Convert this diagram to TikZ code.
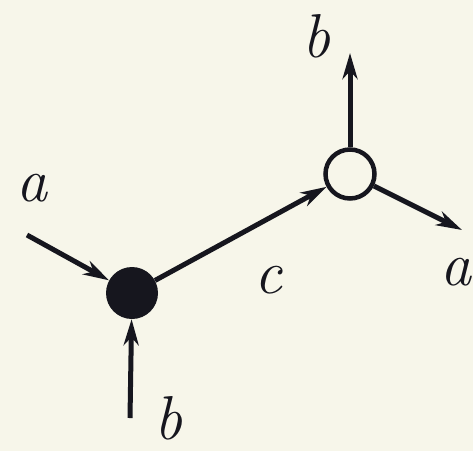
\documentclass[tikz,border=0pt]{standalone}
\usetikzlibrary{arrows.meta}
\definecolor{bg}{RGB}{247,246,234}
\definecolor{ink}{RGB}{22,22,30}
\tikzset{
  conn/.style={draw=ink, line width=5pt, -{Stealth[length=26pt,width=15pt,inset=8pt]}},
  lbl/.style={text=ink, font=\fontsize{62}{62}\selectfont\itshape, inner sep=0pt},
  fullv/.style={circle, fill=ink, minimum size=52pt, inner sep=0pt},
  openv/.style={circle, draw=ink, line width=4.5pt, fill=bg, minimum size=49pt, inner sep=0pt}
}
\begin{document}
\begin{tikzpicture}[x=1pt,y=-1pt]
  \fill[bg] (0,0) rectangle (473,451);
  \useasboundingbox (0,0) rectangle (473,451);
  \node[fullv] (u) at (132,293) {};
  \node[openv] (v) at (350,174) {};
  \coordinate (ain) at (27,235);
  \coordinate (bin) at (130,418);
  \coordinate (bout) at (350,53);
  \coordinate (aout) at (462,230);
  \draw[conn] (ain) -- (u);
  \draw[conn] (bin) -- (u);
  \draw[conn] (u) -- (v);
  \draw[conn] (v) -- (bout);
  \draw[conn] (v) -- (aout);
  \node[lbl] (la1) at (32,188) {a};
  \node[lbl, anchor=south] (lb1) at (168,440) {b};
  \node[lbl] (lc) at (268,280) {c};
  \node[lbl] (lb2) at (316,36) {b};
  \node[lbl, anchor=east] (la2) at (472,272) {a};
\end{tikzpicture}
\end{document}
